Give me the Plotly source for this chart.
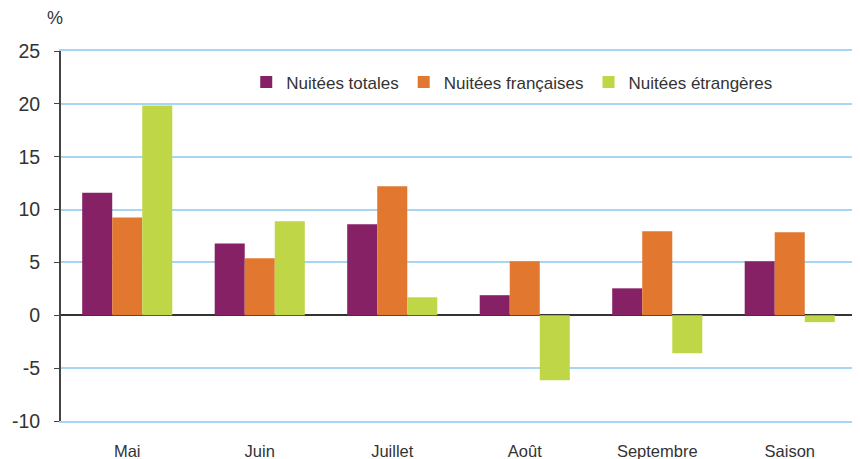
import plotly.graph_objects as go

categories = ["Mai", "Juin", "Juillet", "Août", "Septembre", "Saison"]
totales = [11.6, 6.8, 8.6, 1.9, 2.55, 5.1]
francaises = [9.25, 5.4, 12.2, 5.1, 7.95, 7.85]
etrangeres = [19.85, 8.9, 1.7, -6.15, -3.6, -0.65]
y_ticks = [-10, -5, 0, 5, 10, 15, 20, 25]
y_tick_labels = ["-10", "-5", "0", "5", "10", "15", "20", "25"]

font_family = "Liberation Sans, Arial, sans-serif"
grid_blue = "#a6d6f2"

fig = go.Figure()
fig.add_trace(go.Bar(x=categories, y=totales, name="Nuitées totales", marker_color="#862165", marker_line_width=0))
fig.add_trace(go.Bar(x=categories, y=francaises, name="Nuitées françaises", marker_color="#e2782f", marker_line_width=0))
fig.add_trace(go.Bar(x=categories, y=etrangeres, name="Nuitées étrangères", marker_color="#bfd747", marker_line_width=0))

# page body has an 8px margin, so the figure is sized/offset to compensate
fig.update_layout(
    width=852, height=451,
    margin=dict(l=53, r=4, t=43, b=38),
    plot_bgcolor="white", paper_bgcolor="white",
    barmode="group", bargap=0.32, bargroupgap=0,
    font=dict(family=font_family, color="#333333"),
    showlegend=True,
    legend=dict(orientation="h", x=0.233, y=0.915, xanchor="left", yanchor="middle",
                font=dict(size=17, color="#333333"), bgcolor="rgba(0,0,0,0)",
                itemwidth=30, traceorder="normal"),
    xaxis=dict(showgrid=False, showline=True, mirror=True, linecolor=grid_blue, linewidth=1.5,
               ticks="", tickfont=dict(size=16.5, color="#333333"),
               ticklabelstandoff=14, automargin=False),
    yaxis=dict(range=[-10, 25], tickvals=y_ticks, ticktext=y_tick_labels, showgrid=True,
               gridcolor=grid_blue, gridwidth=1.5,
               zeroline=True, zerolinecolor="#333333", zerolinewidth=1.5,
               showline=True, linecolor="#444444", linewidth=2, ticks="outside", ticklen=5,
               tickcolor="#444444", tickfont=dict(size=19.5, color="#333333"),
               ticklabelstandoff=10, automargin=False),
    shapes=[dict(type="line", xref="paper", yref="paper", x0=1, x1=1, y0=0, y1=1,
                 line=dict(color=grid_blue, width=1.5), layer="below")],
)
fig.update_layout(annotations=[dict(text="%", x=-0.008, y=1.09, xref="paper", yref="paper",
                                    xanchor="center", yanchor="middle", showarrow=False,
                                    font=dict(size=18, color="#333333"))])

fig.write_html("out.html")
